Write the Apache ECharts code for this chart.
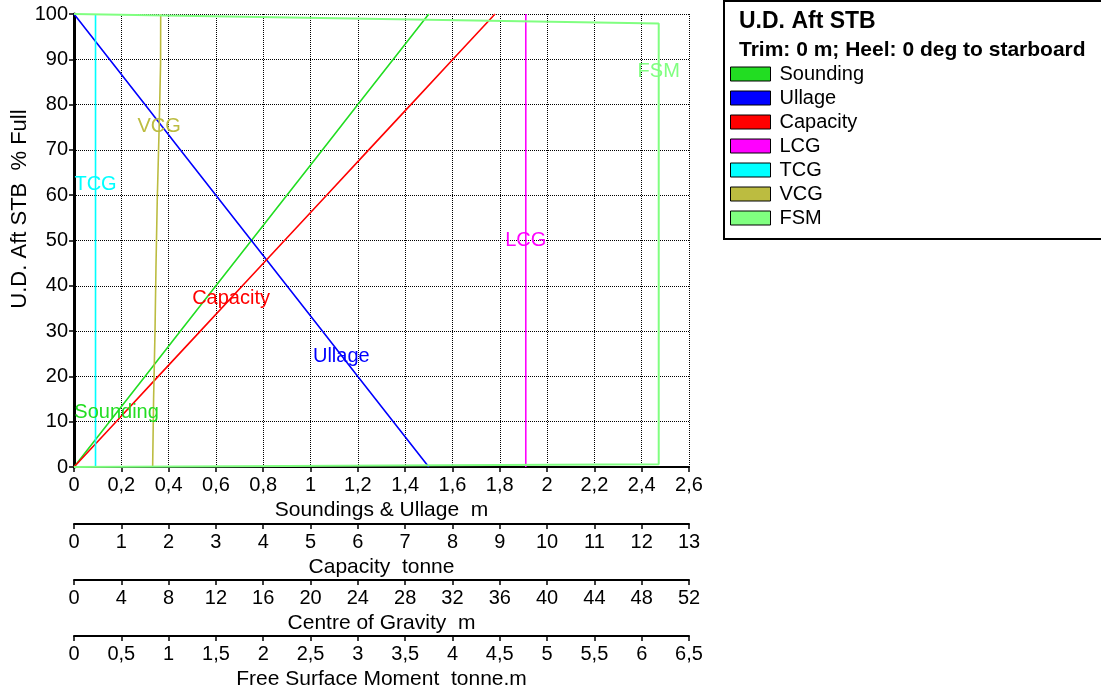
<!DOCTYPE html>
<html>
<head>
<meta charset="utf-8">
<script src="https://cdn.jsdelivr.net/npm/echarts@6/dist/echarts.min.js"></script>
<style>
html,body{margin:0;padding:0;background:#fff;}
#chart{width:1101px;height:688px;}
</style>
</head>
<body>
<div id="chart"></div>
<script>
// ---- data (percent full vs. each quantity) ----
const fillPct      = [0, 10, 20, 30, 40, 50, 60, 70, 80, 90, 100];
const soundingM    = [0, 0.15, 0.30, 0.45, 0.60, 0.75, 0.90, 1.05, 1.20, 1.35, 1.50];
const ullageM      = [1.50, 1.35, 1.20, 1.05, 0.90, 0.75, 0.60, 0.45, 0.30, 0.15, 0];
const capacityT    = [0, 0.89, 1.78, 2.67, 3.56, 4.45, 5.34, 6.23, 7.12, 8.01, 8.90];
const cgFill       = [0, 100];
const lcgM         = [38.2, 38.2];
const tcgM         = [1.82, 1.82];
const vcgFill      = [0, 15, 30, 44, 59, 75, 89, 100];
const vcgM         = [6.65, 6.73, 6.85, 6.93, 7.04, 7.20, 7.32, 7.33];
const fsmFill      = [0, 0.6, 97.9, 100];
const fsmTm        = [0, 6.18, 6.18, 0];
// label anchor points on each curve [x, %full]
const lblSounding  = [0.18, 12];
const lblUllage    = [1.13, 24.5];
const lblCapacity  = [3.32, 37.3];
const lblLCG       = [38.2, 50];
const lblTCG       = [1.82, 62.3];
const lblVCG       = [7.2, 75.2];
const lblFSM       = [6.18, 87.2];
// tick setup
const ticksSU  = {min: 0, max: 2.6, interval: 0.2};
const ticksCap = {min: 0, max: 13, interval: 1};
const ticksCG  = {min: 0, max: 52, interval: 4};
const ticksFSM = {min: 0, max: 6.5, interval: 0.5};
const ticksY   = {min: 0, max: 100, interval: 10};

const FONT = '"Liberation Sans", Arial, Helvetica, sans-serif';
const pair = (xs, ys) => xs.map((x, i) => [x, ys[i]]);
const fmt = v => String(Math.round(v * 1000) / 1000).replace('.', ',');

const colors = {
  Sounding: '#22dd22', Ullage: '#0000ff', Capacity: '#ff0000',
  LCG: '#ff00ff', TCG: '#00ffff', VCG: '#bcbc40', FSM: '#80ff80'
};

function mkSeries(name, xIdx, data, lbl, width) {
  return {
    name: name, type: 'line', xAxisIndex: xIdx, yAxisIndex: 0,
    data: data, showSymbol: false, symbol: 'none',
    lineStyle: {color: colors[name], width: width || 1.6},
    itemStyle: {color: colors[name]},
    emphasis: {disabled: true},
    markPoint: {
      symbol: 'rect', symbolSize: 1, silent: true,
      itemStyle: {color: 'rgba(0,0,0,0)'},
      label: {show: true, position: 'inside', formatter: name, color: colors[name],
              fontFamily: FONT, fontSize: 20},
      data: [{coord: lbl}]
    }
  };
}

function xAx(t, offset, name, grid) {
  return {
    type: 'value', position: 'bottom', offset: offset,
    min: t.min, max: t.max, interval: t.interval,
    name: name, nameLocation: 'middle', nameGap: 30,
    nameTextStyle: {fontFamily: FONT, fontSize: 21, color: '#000'},
    axisLine: {show: true, onZero: false, lineStyle: {color: '#000', width: 2}},
    axisTick: {show: true, inside: false, length: 5, lineStyle: {color: '#000', width: 1.5}},
    axisLabel: {show: true, margin: 8, color: '#000', fontFamily: FONT, fontSize: 20,
                formatter: fmt, showMinLabel: true, showMaxLabel: true},
    splitLine: grid ? {show: true, lineStyle: {color: '#000', width: 1, type: [1, 1]}} : {show: false}
  };
}

const chart = echarts.init(document.getElementById('chart'), null, {renderer: 'canvas'});
chart.setOption({
  animation: false,
  backgroundColor: '#fff',
  grid: {left: 74, right: 412, top: 14, bottom: 221, containLabel: false, outerBoundsMode: 'none'},
  xAxis: [
    xAx(ticksSU, 0, 'Soundings & Ullage  m', true),
    xAx(ticksCap, 57, 'Capacity  tonne', false),
    xAx(ticksCG, 113, 'Centre of Gravity  m', false),
    xAx(ticksFSM, 169, 'Free Surface Moment  tonne.m', false)
  ],
  yAxis: [{
    type: 'value', min: ticksY.min, max: ticksY.max, interval: ticksY.interval,
    axisLine: {show: true, onZero: false, lineStyle: {color: '#000', width: 3}},
    axisTick: {show: true, length: 5, lineStyle: {color: '#000', width: 1.5}},
    axisLabel: {margin: 6, color: '#000', fontFamily: FONT, fontSize: 20},
    splitLine: {show: true, lineStyle: {color: '#000', width: 1, type: [1, 1]}}
  }],
  legend: {
    orient: 'vertical', left: 725, top: 59,
    itemWidth: 40, itemHeight: 14, itemGap: 4,
    icon: 'rect', selectedMode: false,
    itemStyle: {borderColor: '#000', borderWidth: 1},
    textStyle: {fontFamily: FONT, fontSize: 20, color: '#000', padding: [0, 0, 0, 4]},
    data: ['Sounding', 'Ullage', 'Capacity', 'LCG', 'TCG', 'VCG', 'FSM']
  },
  graphic: [
    {type: 'rect', left: 723, top: 0, z: -1,
     shape: {x: 0, y: 0, width: 420, height: 238},
     style: {fill: '#fff', stroke: '#000', lineWidth: 2}},
    {type: 'text', left: 739, top: 10,
     style: {text: 'U.D. Aft STB', font: 'bold 23px ' + FONT, fill: '#000'}},
    {type: 'text', left: 739, top: 40,
     style: {text: 'Trim: 0 m; Heel: 0 deg to starboard', font: 'bold 21px ' + FONT, fill: '#000'}},
    {type: 'text', x: 20, y: 209, rotation: Math.PI / 2,
     style: {text: 'U.D. Aft STB  % Full', font: '22px ' + FONT, fill: '#000',
             align: 'center', verticalAlign: 'middle'}}
  ],
  series: [
    mkSeries('Sounding', 0, pair(soundingM, fillPct), lblSounding),
    mkSeries('Ullage', 0, pair(ullageM, fillPct), lblUllage),
    mkSeries('Capacity', 1, pair(capacityT, fillPct), lblCapacity),
    mkSeries('LCG', 2, pair(lcgM, cgFill), lblLCG),
    mkSeries('TCG', 2, pair(tcgM, cgFill), lblTCG),
    mkSeries('VCG', 2, pair(vcgM, vcgFill), lblVCG),
    mkSeries('FSM', 3, pair(fsmTm, fsmFill), lblFSM, 2)
  ]
});
</script>
</body>
</html>
